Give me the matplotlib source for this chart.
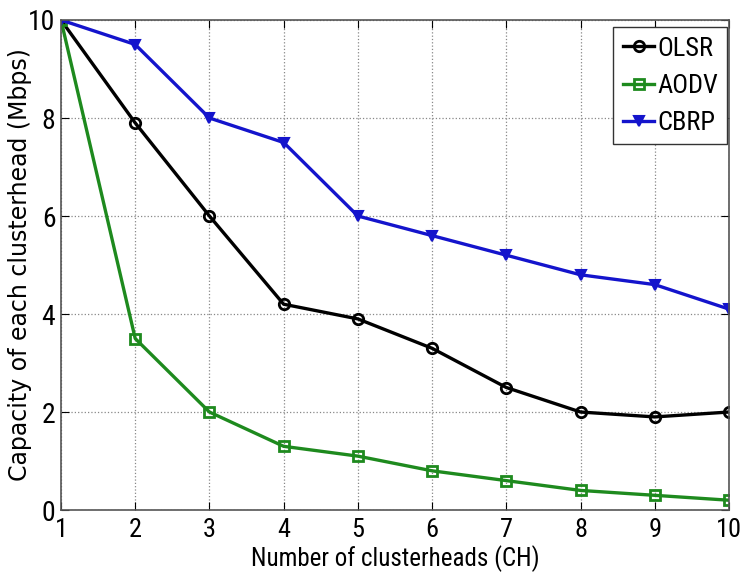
import matplotlib
matplotlib.use("Agg")
import matplotlib.pyplot as plt
from matplotlib import font_manager

x = [1, 2, 3, 4, 5, 6, 7, 8, 9, 10]
olsr = [10, 7.9, 6.0, 4.2, 3.9, 3.3, 2.5, 2.0, 1.9, 2.0]
aodv = [10, 3.5, 2.0, 1.3, 1.1, 0.8, 0.6, 0.4, 0.3, 0.2]
cbrp = [10, 9.5, 8.0, 7.5, 6.0, 5.6, 5.2, 4.8, 4.6, 4.1]
yticks = [0, 2, 4, 6, 8, 10]

names = {f.name for f in font_manager.fontManager.ttflist}
narrow = "Liberation Sans"
for cand in ["Liberation Sans Narrow", "Arial Narrow", "Roboto Condensed", "Archivo Narrow"]:
    if cand in names:
        narrow = cand
        break

fig = plt.figure(figsize=(7.41, 5.78), dpi=100)
ax = fig.add_axes([0.0823, 0.1176, 0.9015, 0.8478])

ax.plot(x, olsr, color="black", lw=2.4, marker="o", ms=7.5, mfc="none", mew=2, label="OLSR")
ax.plot(x, aodv, color="#1e8a1e", lw=2.4, marker="s", ms=6.5, mfc="none", mew=2, label="AODV")
ax.plot(x, cbrp, color="#1414cc", lw=2.4, marker="v", ms=7.5, mfc="#1414cc", mew=1.5, label="CBRP")

ax.set_xlim(1, 10)
ax.set_ylim(0, 10)
ax.set_xticks(x)
ax.set_yticks(yticks)
ax.grid(True, linestyle=":", color="#888888", lw=0.9)
ax.tick_params(direction="in", top=True, right=True, length=6)
ax.tick_params(axis="x", pad=6)
ax.tick_params(axis="y", pad=4)
for lab in ax.get_xticklabels():
    lab.set_fontfamily(narrow)
    lab.set_fontsize(19)
for lab in ax.get_yticklabels():
    lab.set_fontfamily(narrow)
    lab.set_fontsize(20)
for s in ax.spines.values():
    s.set_color("#555555")
    s.set_linewidth(1.2)

ax.set_xlabel("Number of clusterheads (CH)", fontfamily=narrow, fontsize=18, labelpad=2)
ax.set_ylabel("Capacity of each clusterhead (Mbps)", fontfamily="DejaVu Sans", fontsize=17)
ax.yaxis.set_label_coords(-0.043, 0.5)

leg = ax.legend(loc="upper right", bbox_to_anchor=(0.997, 0.985), prop={"family": narrow, "size": 19},
                fancybox=False, edgecolor="#333333", framealpha=1, handlelength=1.2,
                handletextpad=0.1, borderpad=0.35, labelspacing=0.5, borderaxespad=0.0)
leg.get_frame().set_linewidth(1.0)

fig.savefig("out.png", dpi=100)
